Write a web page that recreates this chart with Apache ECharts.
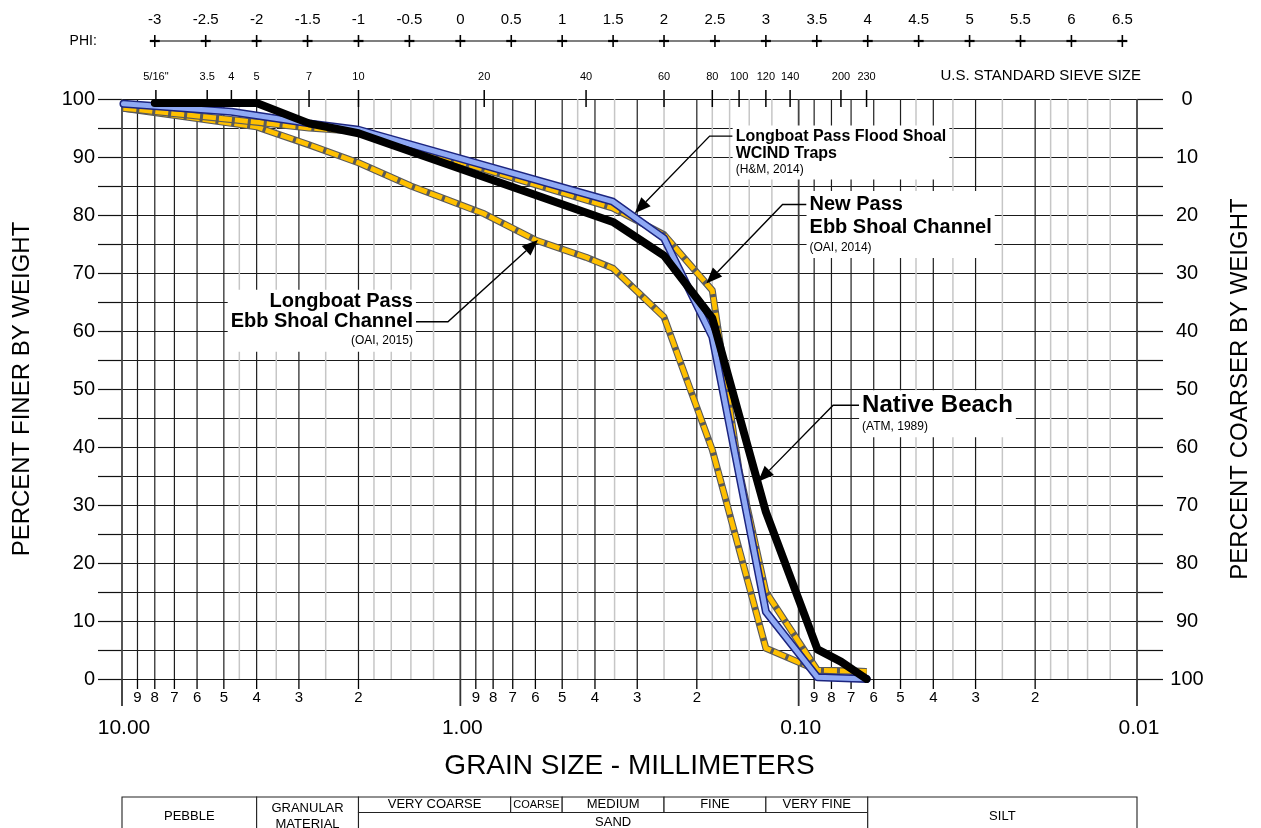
<!DOCTYPE html>
<html><head><meta charset="utf-8">
<script src="https://cdn.jsdelivr.net/npm/echarts/dist/echarts.min.js"></script>
<style>html,body{margin:0;padding:0;background:#fff}#c{width:1261px;height:828px}</style>
</head><body><div id="c"></div>
<script>
// ---------------- DATA ----------------
// Native Beach (ATM, 1989)
const nativeMm  = [8, 4.0, 2.8, 2.0, 0.354, 0.25, 0.18, 0.125, 0.088, 0.075, 0.063];
const nativePct = [99.3, 99.3, 95.8, 94.1, 78.8, 73.0, 62.2, 28.8, 5.1, 3.0, 0];
// Longboat Pass Flood Shoal WCIND Traps (H&M, 2014)
const floodMm  = [9.9, 4.75, 2.8, 2.0, 0.354, 0.25, 0.18, 0.125, 0.088, 0.063];
const floodPct = [99.2, 97.8, 95.8, 94.7, 82.3, 76.0, 59.0, 11.6, 0.3, 0];
// New Pass Ebb Shoal Channel (OAI, 2014)
const newPassMm  = [9.9, 4.0, 2.8, 2.0, 0.354, 0.25, 0.18, 0.15, 0.125, 0.088, 0.063];
const newPassPct = [98.4, 96.0, 95.0, 94.4, 81.2, 76.6, 67.0, 36.0, 15.0, 1.5, 1.3];
// Longboat Pass Ebb Shoal Channel (OAI, 2015)
const lbEbbMm  = [9.9, 4.0, 2.8, 2.0, 1.4, 0.85, 0.6, 0.425, 0.354, 0.25, 0.18, 0.125, 0.088, 0.063];
const lbEbbPct = [98.4, 95.2, 92.1, 89.0, 85.0, 80.2, 75.7, 72.7, 70.8, 62.4, 39.5, 5.3, 1.5, 1.3];

// PHI scale
const phiValues = [-3,-2.5,-2,-1.5,-1,-0.5,0,0.5,1,1.5,2,2.5,3,3.5,4,4.5,5,5.5,6,6.5];
const phiLabels = ['-3','-2.5','-2','-1.5','-1','-0.5','0','0.5','1','1.5','2','2.5','3','3.5','4','4.5','5','5.5','6','6.5'];
// U.S. standard sieve sizes
const sieveLabels = ['5/16"','3.5','4','5','7','10','20','40','60','80','100','120','140','200','230'];
const sieveMm = [7.94, 5.6, 4.75, 4.0, 2.8, 2.0, 0.85, 0.425, 0.25, 0.18, 0.15, 0.125, 0.106, 0.075, 0.063];
// bottom tick labels
const decadeMm = [10, 1, 0.1, 0.01];
const decadeLabels = ['10.00','1.00','0.10','0.01'];
const minorMult = [9,8,7,6,5,4,3,2];
const minorMultLabels = ['9','8','7','6','5','4','3','2'];
const decadeBases = [1, 0.1, 0.01];
// grid line multipliers
const mainGridMult = [1,2,3,4,5,6,7,8,9];
const lightGridMult = [1.2,1.4,1.6,1.8,2.5,3.5,4.5];
// classification table
const classLabels = ['PEBBLE','GRANULAR\nMATERIAL','VERY COARSE','COARSE','MEDIUM','FINE','VERY FINE','SAND','SILT'];
const classFrom   = [10, 4, 2, 0.71, 0.5, 0.25, 0.125, 2, 0.0625];
const classTo     = [4, 2, 0.71, 0.5, 0.25, 0.125, 0.0625, 0.0625, 0.01];
const classRow    = ['full','full','top','top','top','top','top','bottom','full'];
// y tick labels
const yTickStep = 5, yLabelStep = 10;

// ---------------- derived ----------------
const pairs = (xs, ys) => xs.map((x, i) => [x, ys[i]]);
const mainGrid = [10];
decadeBases.forEach(b => mainGridMult.forEach(m => mainGrid.push(+(m*b).toPrecision(6))));
const lightGrid = [];
decadeBases.forEach(b => lightGridMult.forEach(m => lightGrid.push(+(m*b).toPrecision(6))));
const minorTicks = [], minorTickLabels = [];
decadeBases.forEach(b => minorMult.forEach((m, i) => { minorTicks.push(+(m*b).toPrecision(6)); minorTickLabels.push(minorMultLabels[i]); }));
const phiMm = phiValues.map(p => Math.pow(2, -p));

const FONT = '"Liberation Sans", Arial, Helvetica, sans-serif';
const chart = echarts.init(document.getElementById('c'));

function vline(api, d, y0, y1, color, w) {
  const a = api.coord([d, 0]);
  return {type:'line', shape:{x1:a[0], y1:y0, x2:a[0], y2:y1}, style:{stroke:color, lineWidth:w}};
}

const annotations = [
  {lines:['Longboat Pass Flood Shoal','WCIND Traps'], cite:'(H&M, 2014)', size:16, lh:17, clh:16, anchorLine:0, tip:[0.305,80.3], elbow:[0.1833,93.6], side:'right', run:23},
  {lines:['New Pass','Ebb Shoal Channel'], cite:'(OAI, 2014)', size:20, lh:23, clh:17, anchorLine:0, tip:[0.1874,68.2], elbow:[0.1116,81.8], side:'right', run:24},
  {lines:['Longboat Pass','Ebb Shoal Channel'], cite:'(OAI, 2015)', size:20, lh:20, clh:18, anchorLine:1, tip:[0.5896,75.7], elbow:[1.088,61.6], side:'left', run:32},
  {lines:['Native Beach'], cite:'(ATM, 1989)', size:24, lh:26, clh:17, anchorLine:0, tip:[0.1318,34.0], elbow:[0.0791,47.2], side:'right', run:26}
];

const option = {
  animation: false,
  backgroundColor: '#fff',
  textStyle: {fontFamily: FONT},
  grid: {left: 122, right: 124, top: 99, bottom: 149, containLabel: false},
  xAxis: {
    type: 'log', logBase: 10, min: 0.01, max: 10, inverse: true,
    axisLine: {show: false}, axisTick: {show: false}, axisLabel: {show: false}, splitLine: {show: false},
    name: 'GRAIN SIZE - MILLIMETERS', nameLocation: 'middle', nameGap: 73,
    nameTextStyle: {fontSize: 28, color: '#000', fontFamily: FONT}
  },
  yAxis: [
    {type:'value', min:0, max:100, interval:yTickStep, position:'left',
     axisLine:{show:false}, axisTick:{show:true, length:24, lineStyle:{color:'#111', width:1.2}},
     axisLabel:{fontSize:20, color:'#000', margin:27, fontFamily:FONT, formatter: v => (v % yLabelStep === 0 ? String(v) : '')},
     splitLine:{show:true, lineStyle:{color:'#1a1a1a', width:1.2}},
     name:'PERCENT FINER BY WEIGHT', nameLocation:'middle', nameGap:88, nameRotate:90,
     nameTextStyle:{fontSize:24, color:'#000', fontFamily:FONT}},
    {type:'value', min:0, max:100, interval:yTickStep, position:'right', inverse:true,
     axisLine:{show:false}, axisTick:{show:true, length:26, lineStyle:{color:'#111', width:1.2}},
     axisLabel:{fontSize:20, color:'#000', margin:50, align:'center', fontFamily:FONT, formatter: v => (v % yLabelStep === 0 ? String(v) : '')},
     splitLine:{show:false},
     name:'PERCENT COARSER BY WEIGHT', nameLocation:'middle', nameGap:91, nameRotate:90,
     nameTextStyle:{fontSize:24, color:'#000', fontFamily:FONT}}
  ],
  series: [
    // light vertical grid lines
    {type:'custom', silent:true, z:1, data: lightGrid.map(d => [d, 50]),
     renderItem: (p, api) => { const d = lightGrid[p.dataIndex]; return vline(api, d, api.coord([d,100])[1], api.coord([d,0])[1], '#c6c6c6', 1.5); }},
    // main vertical grid lines
    {type:'custom', silent:true, z:2, data: mainGrid.map(d => [d, 50]),
     renderItem: (p, api) => { const d = mainGrid[p.dataIndex]; const dec = decadeMm.indexOf(d) >= 0;
       return vline(api, d, api.coord([d,100])[1], api.coord([d,0])[1], dec ? '#444' : '#1f1f1f', dec ? 1.8 : 1.2); }},
    // bottom minor ticks + labels
    {type:'custom', silent:true, z:3, data: minorTicks.map(d => [d, 0]),
     renderItem: (p, api) => { const d = minorTicks[p.dataIndex]; const c = api.coord([d, 0]);
       return {type:'group', children:[
         {type:'line', shape:{x1:c[0], y1:c[1], x2:c[0], y2:c[1]+10}, style:{stroke:'#000', lineWidth:1.3}},
         {type:'text', x:c[0], y:c[1]+11, style:{text:minorTickLabels[p.dataIndex], fontSize:15, fontFamily:FONT, fill:'#000', align:'center', verticalAlign:'top'}}
       ]}; }},
    // decade ticks + labels
    {type:'custom', silent:true, z:3, data: decadeMm.map(d => [d, 0]),
     renderItem: (p, api) => { const d = decadeMm[p.dataIndex]; const c = api.coord([d, 0]);
       return {type:'group', children:[
         {type:'line', shape:{x1:c[0], y1:c[1], x2:c[0], y2:c[1]+27}, style:{stroke:'#333', lineWidth:1.8}},
         {type:'text', x:c[0]+2, y:c[1]+49, style:{text:decadeLabels[p.dataIndex], fontSize:21, fontFamily:FONT, fill:'#000', align:'center', verticalAlign:'middle'}}
       ]}; }},
    // sieve ticks + labels (top)
    {type:'custom', silent:true, z:3, data: sieveMm.map(d => [d, 100]),
     renderItem: (p, api) => { const d = sieveMm[p.dataIndex]; const c = api.coord([d, 100]);
       const kids = [
         {type:'line', shape:{x1:c[0], y1:c[1]-9, x2:c[0], y2:c[1]+8}, style:{stroke:'#000', lineWidth:1.5}},
         {type:'text', x:c[0], y:c[1]-22, style:{text:sieveLabels[p.dataIndex], fontSize:11, fontFamily:FONT, fill:'#000', align:'center', verticalAlign:'middle'}}
       ];
       if (p.dataIndex === sieveMm.length - 1) {
         const r = api.coord([0.01, 100]);
         kids.push({type:'text', x:r[0]+4, y:c[1]-23, style:{text:'U.S. STANDARD SIEVE SIZE', fontSize:15, fontFamily:FONT, fill:'#000', align:'right', verticalAlign:'middle'}});
       }
       return {type:'group', children:kids}; }},
    // PHI scale
    {type:'custom', silent:true, z:3, data: phiMm.map(d => [d, 100]),
     renderItem: (p, api) => { const d = phiMm[p.dataIndex]; const c = api.coord([d, 100]); const y = c[1] - 58;
       const kids = [
         {type:'line', shape:{x1:c[0], y1:y-6, x2:c[0], y2:y+6}, style:{stroke:'#000', lineWidth:1.6}},
         {type:'line', shape:{x1:c[0]-5, y1:y, x2:c[0]+5, y2:y}, style:{stroke:'#000', lineWidth:2.2}},
         {type:'text', x:c[0], y:y-21, style:{text:phiLabels[p.dataIndex], fontSize:15, fontFamily:FONT, fill:'#000', align:'center', verticalAlign:'middle'}}
       ];
       if (p.dataIndex === 0) {
         const e = api.coord([phiMm[phiMm.length-1], 100]);
         kids.push({type:'line', shape:{x1:c[0], y1:y, x2:e[0], y2:y}, style:{stroke:'#000', lineWidth:1.2}});
         kids.push({type:'text', x:c[0]-58, y:y, style:{text:'PHI:', fontSize:14, fontFamily:FONT, fill:'#000', align:'right', verticalAlign:'middle'}});
       }
       return {type:'group', children:kids}; }},
    // classification table
    {type:'custom', silent:true, z:3, data: classFrom.map(d => [d, 0]),
     renderItem: (p, api) => { const i = p.dataIndex; const a = api.coord([classFrom[i], 0]); const b = api.coord([classTo[i], 0]);
       const T = a[1] + 118, R = 15.5, B = a[1] + 160;
       const row = classRow[i];
       const y0 = row === 'bottom' ? T + R : T, y1 = row === 'top' ? T + R : B;
       const lbl = classLabels[i];
       let ty = (y0 + Math.min(y1, 828)) / 2;
       if (row === 'full') ty = T + 19;
       if (row === 'bottom') ty = T + R + 10;
       return {type:'group', children:[
         {type:'rect', shape:{x:a[0], y:y0, width:b[0]-a[0], height:y1-y0}, style:{fill:'#fff', stroke:'#222', lineWidth:1.1}},
         {type:'text', x:(a[0]+b[0])/2, y:ty, style:{text:lbl, fontSize: lbl === 'COARSE' ? 11 : 13, lineHeight:16, fontFamily:FONT, fill:'#000', align:'center', verticalAlign:'middle'}}
       ]}; }},
    // curves
    {type:'line', name:'Longboat Pass Ebb (under)', data: pairs(lbEbbMm, lbEbbPct), symbol:'none', z:5, silent:true,
     lineStyle:{color:'#5a5a5a', width:7, join:'round'}},
    {type:'line', name:'Longboat Pass Ebb Shoal Channel', data: pairs(lbEbbMm, lbEbbPct), symbol:'none', z:6, silent:true,
     lineStyle:{color:'#FFC000', width:4.8, type:[13,3], join:'round'}},
    {type:'line', name:'New Pass (under)', data: pairs(newPassMm, newPassPct), symbol:'none', z:7, silent:true,
     lineStyle:{color:'#5a5a5a', width:7, join:'round'}},
    {type:'line', name:'New Pass Ebb Shoal Channel', data: pairs(newPassMm, newPassPct), symbol:'none', z:8, silent:true,
     lineStyle:{color:'#FFC000', width:4.8, type:[13,3], join:'round'}},
    {type:'line', name:'Flood (outline)', data: pairs(floodMm, floodPct), symbol:'none', z:9, silent:true,
     lineStyle:{color:'#1c2580', width:8, cap:'round', join:'round'}},
    {type:'line', name:'Longboat Pass Flood Shoal', data: pairs(floodMm, floodPct), symbol:'none', z:10, silent:true,
     lineStyle:{color:'#8fa9f4', width:5, cap:'round', join:'round'}},
    {type:'line', name:'Native Beach', data: pairs(nativeMm, nativePct), symbol:'none', z:11, silent:true,
     lineStyle:{color:'#000', width:8, cap:'round', join:'round'}},
    // annotations
    {type:'custom', silent:true, z:20, data: annotations.map(a => a.tip),
     renderItem: (p, api) => {
       const a = annotations[p.dataIndex];
       const tip = api.coord(a.tip), elb = api.coord(a.elbow);
       const dir = a.side === 'right' ? 1 : -1;
       const tx = elb[0] + dir * a.run;
       const ang = Math.atan2(tip[1]-elb[1], tip[0]-elb[0]);
       const L = 16, W = 6.5;
       const bx = tip[0] - L*Math.cos(ang), by = tip[1] - L*Math.sin(ang);
       const px = -Math.sin(ang)*W, py = Math.cos(ang)*W;
       const al = a.side === 'right' ? 'left' : 'right';
       const rich = {
         a:{fontSize:a.size, fontWeight:'bold', lineHeight:a.lh, fontFamily:FONT, fill:'#000', align:al},
         b:{fontSize:12, lineHeight:a.clh, fontFamily:FONT, fill:'#000', align:al}
       };
       const text = a.lines.map(s => '{a|' + s + '}').join('\n') + '\n{b|' + a.cite + '}';
       const pad = 2;
       const ty = elb[1] - a.lh*(a.anchorLine + 0.5) - pad;
       return {type:'group', children:[
         {type:'polyline', shape:{points:[[tx, elb[1]], [elb[0], elb[1]], [bx, by]]}, style:{stroke:'#000', lineWidth:1.4, fill:null}},
         {type:'polygon', shape:{points:[[tip[0], tip[1]], [bx+px, by+py], [bx-px, by-py]]}, style:{fill:'#000'}},
         {type:'text', x:tx, y:ty, style:{text:text, rich:rich, backgroundColor:'#fff', padding:[pad,3,pad,3], align:al, verticalAlign:'top', fill:'#000'}}
       ]};
     }}
  ]
};
chart.setOption(option);
</script>
</body></html>
